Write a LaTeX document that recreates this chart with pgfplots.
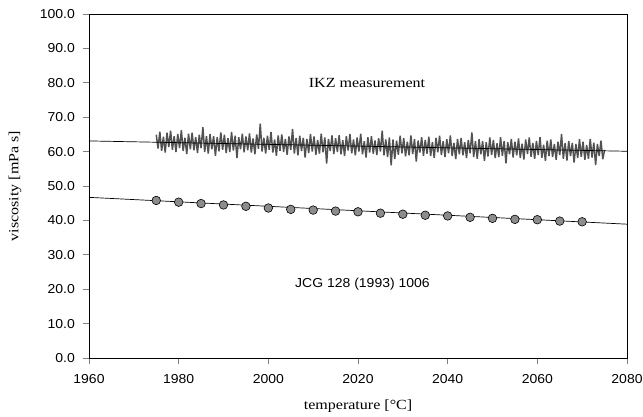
\documentclass[border=0pt]{standalone}
\usepackage{pgfplots}
\pgfplotsset{compat=1.18}
\usepackage{pgfplotstable}
\usepackage{fontspec}
\setmainfont{Liberation Serif}
\newfontfamily\arial{Liberation Sans}

\pgfplotstableread[row sep=\\]{
x y \\
1975.0 64.9 \\ 1975.4 60.9 \\ 1975.8 65.8 \\ 1976.2 60.2 \\ 1976.6 64.3 \\ 1977.0 59.7 \\ 1977.4 65.5 \\ 1977.8 61.3 \\ 1978.2 66.1 \\ 1978.6 60.5 \\
1979.0 64.5 \\ 1979.4 59.9 \\ 1979.8 65.1 \\ 1980.2 61.0 \\ 1980.6 66.2 \\ 1981.0 60.2 \\ 1981.4 64.0 \\ 1981.8 59.3 \\ 1982.2 65.2 \\ 1982.6 60.7 \\
1983.0 65.5 \\ 1983.4 60.4 \\ 1983.8 64.2 \\ 1984.2 59.6 \\ 1984.6 64.9 \\ 1985.0 61.0 \\ 1985.4 67.1 \\ 1985.8 59.9 \\ 1986.2 64.5 \\ 1986.6 59.4 \\
1987.0 65.1 \\ 1987.4 60.7 \\ 1987.8 64.5 \\ 1988.2 58.8 \\ 1988.6 64.2 \\ 1989.0 60.1 \\ 1989.4 65.6 \\ 1989.8 60.5 \\ 1990.2 64.9 \\ 1990.6 59.6 \\
1991.0 63.9 \\ 1991.4 59.9 \\ 1991.8 65.7 \\ 1992.2 60.3 \\ 1992.6 64.6 \\ 1993.0 58.1 \\ 1993.4 64.2 \\ 1993.8 60.7 \\ 1994.2 65.2 \\ 1994.6 59.8 \\
1995.0 64.4 \\ 1995.4 60.4 \\ 1995.8 65.3 \\ 1996.2 59.7 \\ 1996.6 63.8 \\ 1997.0 59.2 \\ 1997.4 65.0 \\ 1997.8 60.8 \\ 1998.2 68.1 \\ 1998.6 60.0 \\
1999.0 64.0 \\ 1999.4 59.4 \\ 1999.8 64.6 \\ 2000.2 60.5 \\ 2000.6 65.7 \\ 2001.0 59.7 \\ 2001.4 63.5 \\ 2001.8 58.8 \\ 2002.2 64.7 \\ 2002.6 60.2 \\
2003.0 65.0 \\ 2003.4 59.9 \\ 2003.8 63.7 \\ 2004.2 59.1 \\ 2004.6 64.4 \\ 2005.0 60.5 \\ 2005.4 66.6 \\ 2005.8 59.4 \\ 2006.2 64.0 \\ 2006.6 58.9 \\
2007.0 64.6 \\ 2007.4 60.2 \\ 2007.8 64.0 \\ 2008.2 58.3 \\ 2008.6 63.7 \\ 2009.0 59.6 \\ 2009.4 65.1 \\ 2009.8 60.0 \\ 2010.2 64.4 \\ 2010.6 59.1 \\
2011.0 63.4 \\ 2011.4 59.4 \\ 2011.8 65.2 \\ 2012.2 59.8 \\ 2012.6 64.1 \\ 2013.0 56.5 \\ 2013.4 63.7 \\ 2013.8 60.2 \\ 2014.2 64.7 \\ 2014.6 59.3 \\
2015.0 63.9 \\ 2015.4 59.9 \\ 2015.8 64.8 \\ 2016.2 59.2 \\ 2016.6 63.3 \\ 2017.0 58.7 \\ 2017.4 64.5 \\ 2017.8 60.3 \\ 2018.2 65.1 \\ 2018.6 59.5 \\
2019.0 63.5 \\ 2019.4 58.9 \\ 2019.8 64.1 \\ 2020.2 60.0 \\ 2020.6 65.2 \\ 2021.0 59.2 \\ 2021.4 63.0 \\ 2021.8 58.3 \\ 2022.2 64.2 \\ 2022.6 59.7 \\
2023.0 64.5 \\ 2023.4 59.4 \\ 2023.8 63.2 \\ 2024.2 59.0 \\ 2024.6 63.9 \\ 2025.0 60.0 \\ 2025.4 66.1 \\ 2025.8 58.9 \\ 2026.2 63.5 \\ 2026.6 58.4 \\
2027.0 64.1 \\ 2027.4 56.0 \\ 2027.8 63.5 \\ 2028.2 57.8 \\ 2028.6 63.2 \\ 2029.0 59.1 \\ 2029.4 64.6 \\ 2029.8 59.5 \\ 2030.2 63.9 \\ 2030.6 58.6 \\
2031.0 62.9 \\ 2031.4 58.9 \\ 2031.8 64.7 \\ 2032.2 59.3 \\ 2032.6 63.6 \\ 2033.0 57.1 \\ 2033.4 63.2 \\ 2033.8 59.7 \\ 2034.2 64.2 \\ 2034.6 58.8 \\
2035.0 63.4 \\ 2035.4 59.4 \\ 2035.8 64.3 \\ 2036.2 58.7 \\ 2036.6 62.8 \\ 2037.0 58.2 \\ 2037.4 64.0 \\ 2037.8 59.8 \\ 2038.2 64.6 \\ 2038.6 59.0 \\
2039.0 63.0 \\ 2039.4 58.4 \\ 2039.8 63.6 \\ 2040.2 59.5 \\ 2040.6 64.7 \\ 2041.0 58.7 \\ 2041.4 62.5 \\ 2041.8 57.8 \\ 2042.2 63.7 \\ 2042.6 59.2 \\
2043.0 64.0 \\ 2043.4 58.9 \\ 2043.8 62.7 \\ 2044.2 58.1 \\ 2044.6 63.4 \\ 2045.0 59.5 \\ 2045.4 65.6 \\ 2045.8 58.4 \\ 2046.2 63.0 \\ 2046.6 57.9 \\
2047.0 63.6 \\ 2047.4 59.2 \\ 2047.8 63.0 \\ 2048.2 57.3 \\ 2048.6 62.7 \\ 2049.0 58.6 \\ 2049.4 64.1 \\ 2049.8 59.0 \\ 2050.2 63.4 \\ 2050.6 58.1 \\
2051.0 62.4 \\ 2051.4 58.4 \\ 2051.8 64.2 \\ 2052.2 58.8 \\ 2052.6 63.1 \\ 2053.0 56.6 \\ 2053.4 62.7 \\ 2053.8 59.2 \\ 2054.2 63.7 \\ 2054.6 58.3 \\
2055.0 62.9 \\ 2055.4 58.9 \\ 2055.8 63.8 \\ 2056.2 58.2 \\ 2056.6 62.3 \\ 2057.0 57.7 \\ 2057.4 63.5 \\ 2057.8 59.3 \\ 2058.2 64.1 \\ 2058.6 58.5 \\
2059.0 62.5 \\ 2059.4 57.9 \\ 2059.8 63.1 \\ 2060.2 59.0 \\ 2060.6 64.2 \\ 2061.0 58.2 \\ 2061.4 62.0 \\ 2061.8 57.3 \\ 2062.2 63.2 \\ 2062.6 58.7 \\
2063.0 63.5 \\ 2063.4 58.4 \\ 2063.8 62.2 \\ 2064.2 57.6 \\ 2064.6 62.9 \\ 2065.0 59.0 \\ 2065.4 65.1 \\ 2065.8 57.9 \\ 2066.2 62.5 \\ 2066.6 57.4 \\
2067.0 63.1 \\ 2067.4 58.7 \\ 2067.8 62.5 \\ 2068.2 56.8 \\ 2068.6 62.2 \\ 2069.0 58.1 \\ 2069.4 63.6 \\ 2069.8 58.5 \\ 2070.2 62.9 \\ 2070.6 57.6 \\
2071.0 61.9 \\ 2071.4 57.9 \\ 2071.8 63.7 \\ 2072.2 58.3 \\ 2072.6 62.6 \\ 2073.0 56.1 \\ 2073.4 62.2 \\ 2073.8 58.7 \\ 2074.2 63.2 \\ 2074.6 57.8 \\
2075.0 60.5 \\
}\ikz

\pgfplotstableread[row sep=\\]{
x y \\
1975 45.8 \\ 1980 45.3 \\ 1985 44.9 \\ 1990 44.5 \\ 1995 44.1 \\
2000 43.6 \\ 2005 43.2 \\ 2010 43.0 \\ 2015 42.7 \\ 2020 42.5 \\
2025 42.1 \\ 2030 41.8 \\ 2035 41.5 \\ 2040 41.3 \\ 2045 40.9 \\
2050 40.6 \\ 2055 40.3 \\ 2060 40.2 \\ 2065 39.8 \\ 2070 39.6 \\
}\jcg

\begin{document}
\begin{tikzpicture}
\begin{axis}[
  name=ax,
  scale only axis,
  width=538bp, height=344bp,
  xmin=1960, xmax=2080, ymin=0, ymax=100,
  xtick={1960,1980,...,2080},
  ytick={0,10,...,100},
  tick align=outside,
  major tick length=6bp,
  xtick pos=bottom, ytick pos=left,
  every tick/.style={gray, line width=0.8pt},
  axis line style={line width=0.8pt},
  ticklabel style={font=\arial\fontsize{13}{15}\selectfont, xscale=1.08},
  /pgf/number format/assume math mode=true,
  xticklabel style={/pgf/number format/set thousands separator={}, /pgf/number format/fixed, yshift=-7bp},
  yticklabel style={/pgf/number format/fixed, /pgf/number format/fixed zerofill, /pgf/number format/precision=1, xshift=-4bp},
  xlabel={temperature [\textdegree C]},
  ylabel={viscosity [mPa s]},
  every axis x label/.style={at={([yshift=-48bp]axis description cs:0.5,0)}, anchor=center, font=\fontsize{14}{16}\selectfont, xscale=1.15},
  every axis y label/.style={at={([xshift=-74bp]axis description cs:0,0.5)}, anchor=center, rotate=90, font=\fontsize{14}{16}\selectfont, xscale=1.15},
  clip=true,
]
\addplot[color=black!68, line width=1.5pt, line join=bevel] table[x=x,y=y] {\ikz};
\addplot[black, line width=0.7pt] coordinates {(1960,63.1) (2080,60.1)};
\addplot[black, line width=0.7pt] coordinates {(1960,46.7) (2080,38.9)};
\addplot[only marks, mark=*, mark size=4.3bp, mark options={fill=black!45, draw=black, line width=0.6pt}] table[x=x,y=y] {\jcg};
\node[font=\fontsize{14}{16}\selectfont, xscale=1.15] at (axis cs:2022,80) {IKZ measurement};
\node[font=\arial\fontsize{13}{15}\selectfont, xscale=1.08] at (axis cs:2021,21.5) {JCG 128 (1993) 1006};
\end{axis}
\pgfresetboundingbox
\path[use as bounding box] ([shift={(-89bp,-59bp)}]ax.south west) rectangle ([shift={(16bp,14bp)}]ax.north east);
\end{tikzpicture}
\end{document}
